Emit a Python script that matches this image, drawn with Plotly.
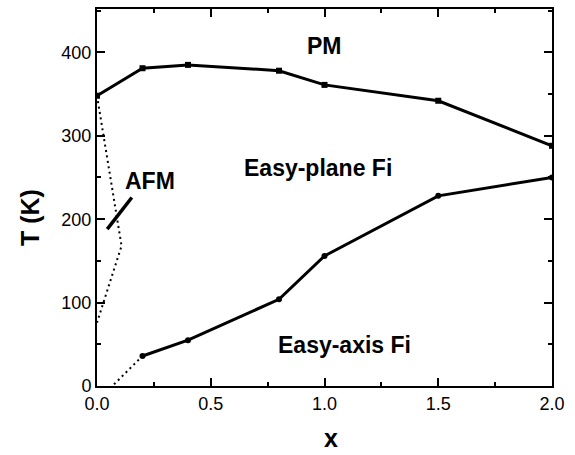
import plotly.graph_objects as go

# Upper boundary (PM transition)
x_pm = [0.0, 0.2, 0.4, 0.8, 1.0, 1.5, 2.0]
t_pm = [348, 381, 385, 378, 361, 342, 288]

# Lower boundary (easy-axis / easy-plane)
x_ax = [0.2, 0.4, 0.8, 1.0, 1.5, 2.0]
t_ax = [36, 55, 104, 156, 228, 250]

# Dotted AFM region boundary
x_afm = [0.0, 0.108, 0.0]
t_afm = [348, 168, 76]

# Dotted extension of lower boundary
x_ext = [0.075, 0.2]
t_ext = [2, 36]

# AFM pointer line
x_ptr = [0.045, 0.153]
t_ptr = [188, 226]

labels = ["PM", "Easy-plane Fi", "AFM", "Easy-axis Fi"]
label_x = [1.0, 0.97, 0.235, 1.09]
label_t = [408, 261, 246, 49]

font = "Liberation Sans, Arial, Helvetica, sans-serif"

fig = go.Figure()
for xs, ts in ((x_afm, t_afm), (x_ext, t_ext)):
    fig.add_trace(go.Scatter(x=xs, y=ts, mode="lines",
                             line=dict(color="black", width=2, dash="2px,3.5px"),
                             showlegend=False))
fig.add_trace(go.Scatter(x=x_pm, y=t_pm, mode="lines+markers",
                         line=dict(color="black", width=3),
                         marker=dict(symbol="square", size=6, color="black"),
                         showlegend=False))
fig.add_trace(go.Scatter(x=x_ax, y=t_ax, mode="lines+markers",
                         line=dict(color="black", width=3),
                         marker=dict(symbol="circle", size=6, color="black"),
                         showlegend=False))
fig.add_trace(go.Scatter(x=x_ptr, y=t_ptr, mode="lines",
                         line=dict(color="black", width=3.5),
                         showlegend=False))

for txt, lx, lt in zip(labels, label_x, label_t):
    fig.add_annotation(x=lx, y=lt, text="<b>%s</b>" % txt, showarrow=False,
                       font=dict(family=font, size=23, color="black"),
                       xanchor="center", yanchor="middle")

# Axis titles
fig.add_annotation(xref="paper", yref="paper", x=-0.147, y=0.446,
                   text="<b>T (K)</b>", textangle=-90, showarrow=False,
                   font=dict(family=font, size=25, color="black"),
                   xanchor="center", yanchor="middle")
fig.add_annotation(xref="paper", yref="paper", x=0.514, y=-0.137,
                   text="<b>x</b>", showarrow=False,
                   font=dict(family=font, size=25, color="black"),
                   xanchor="center", yanchor="middle")

axis_common = dict(
    showgrid=False, zeroline=False, showline=True, linecolor="black",
    linewidth=2, mirror="allticks", ticks="inside", ticklen=8, tickwidth=1.5,
    tickcolor="black", tickfont=dict(family=font, size=18, color="black"),
)

fig.update_xaxes(range=[0, 2], dtick=0.5, tick0=0, tickformat=".1f",
                 minor=dict(dtick=0.25, ticks="inside", ticklen=4,
                            tickwidth=1.5, tickcolor="black"),
                 **axis_common)
fig.update_yaxes(range=[0, 452], dtick=100, tick0=0,
                 minor=dict(dtick=50, ticks="inside", ticklen=4,
                            tickwidth=1.5, tickcolor="black"),
                 **axis_common)

fig.update_layout(width=575, height=455,
                  margin=dict(l=97, r=23, t=7, b=69),
                  paper_bgcolor="white", plot_bgcolor="white")

fig.write_html("out.html")
